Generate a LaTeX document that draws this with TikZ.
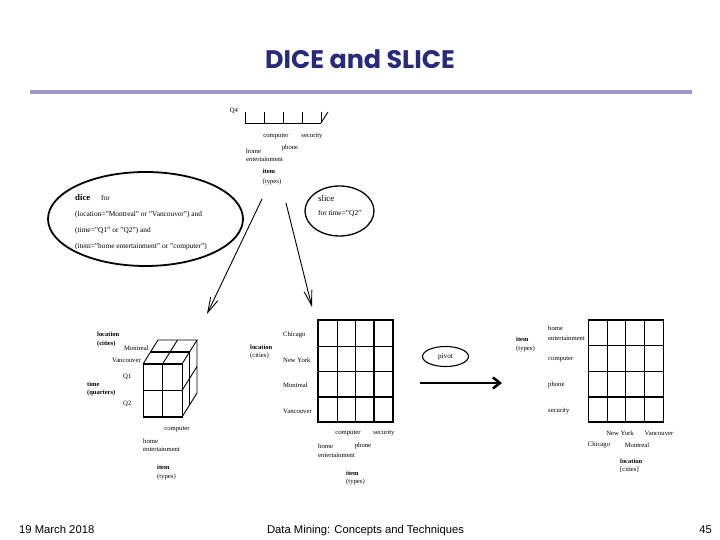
\documentclass[tikz,border=0pt]{standalone}
\usepackage{fontspec}
\setmainfont{Liberation Serif}
\newfontfamily\slidefont{Liberation Sans}
\newfontfamily\titlefont{Poppins}
\usetikzlibrary{shapes.geometric, arrows.meta, positioning, calc}
\definecolor{titleblue}{RGB}{40,42,122}
\definecolor{rulelilac}{RGB}{155,153,204}
\tikzset{
  lbl/.style={font=\fontsize{6.7}{7}\selectfont, inner sep=0pt},
  axlbl/.style={font=\bfseries\fontsize{6.5}{7}\selectfont, inner sep=0pt},
  cond/.style={font=\fontsize{7.4}{8}\selectfont, inner sep=0pt, anchor=west},
  oval/.style={draw, ellipse, line width=1.3bp, inner sep=0pt},
  gridline/.style={line width=0.9bp},
  thickline/.style={line width=2bp},
  opsarrow/.style={line width=0.9bp, -{Straight Barb[length=15bp,width=8bp]}},
  footer/.style={font=\slidefont\fontsize{11.3}{13}\selectfont, inner sep=0pt}
}

\begin{document}
\begin{tikzpicture}[x=1bp, y=-1bp]
  \useasboundingbox (0,0) rectangle (720,540);
  % slide title and rule
  \node[font=\titlefont\bfseries\fontsize{25.5}{28}\selectfont, text=titleblue] (title) at (360,59) {DICE and SLICE};
  \draw[rulelilac, line width=4bp] (30,92) -- (692,92);

  % top cube (cut off)
  \node[lbl] (q4) at (234,111) {Q4};
  \draw[gridline] (245,112) -- (245,123) -- (321,123);
  \foreach \x in {264,283,302,321} \draw[gridline] (\x,112) -- (\x,123);
  \draw[gridline] (321,123) -- (328,112);
  \node[lbl] (topComputer) at (276,136) {computer};
  \node[lbl] (topSecurity) at (312,136) {security};
  \node[lbl] (topPhone) at (290,148) {phone};
  \node[lbl, anchor=west] (topHome) at (246,151) {home};
  \node[lbl, anchor=west] (topEnt) at (246,159) {entertainment};
  \node[axlbl] (topItem) at (269,171) {item};
  \node[lbl] (topTypes) at (272,182) {(types)};

  % dice condition
  \node[oval, line width=1.8bp, minimum width=195bp, minimum height=94bp] (diceOval) at (145.5,219) {};
  \node[font=\bfseries\fontsize{8.8}{9}\selectfont, inner sep=0pt, anchor=west] (diceWord) at (75,198) {dice};
  \node[cond] (diceFor) at (101,198) {for};
  \node[cond] (diceLoc) at (75,215) {(location="Montreal" or "Vancouver") and};
  \node[cond] (diceTime) at (75,231) {(time="Q1" or "Q2") and};
  \node[cond] (diceItem) at (75,247) {(item="home entertainment" or "computer")};

  % slice condition
  \node[oval, minimum width=69bp, minimum height=50bp] (sliceOval) at (339.5,211) {};
  \node[font=\fontsize{8.8}{9}\selectfont, inner sep=0pt, anchor=west] (sliceWord) at (318,199) {slice};
  \node[cond] (sliceFor) at (318,214) {for time="Q2"};

  % operation arrows
  \coordinate (diceFrom) at (262,199);
  \coordinate (diceTo) at (207,314);
  \coordinate (sliceFrom) at (286,203);
  \coordinate (sliceTo) at (312,307);
  \draw[opsarrow] (diceFrom) -- (diceTo);
  \draw[opsarrow] (sliceFrom) -- (sliceTo);

  % dice result: 2x2x2 cube
  \draw[gridline] (143,364) rectangle (182,417);
  \draw[gridline] (162.5,364) -- (162.5,417) (143,390.5) -- (182,390.5);
  \draw[gridline] (143,364) -- (158,340) -- (197,340) -- (182,364);
  \draw[gridline] (162.5,364) -- (177.5,340);
  \draw[gridline] (197,340) -- (197,393) -- (182,417);
  \draw[gridline] (182,390.5) -- (197,366.5) (189.5,352) -- (189.5,405);
  \draw[thickline] (143,364) -- (182,364);
  \draw[thickline] (143,417) -- (182,417);
  \draw[thickline] (150.5,352) -- (189.5,352);
  \node[axlbl, anchor=west] (cubeLoc) at (97,334) {location};
  \node[axlbl, anchor=west] (cubeCities) at (97,344) {(cities)};
  \node[lbl, anchor=west] (cubeMtl) at (124,348) {Montreal};
  \node[lbl, anchor=west] (cubeVan) at (112,360) {Vancouver};
  \node[lbl, anchor=west] (cubeQ1) at (123,377) {Q1};
  \node[lbl, anchor=west] (cubeQ2) at (123,404) {Q2};
  \node[axlbl, anchor=west] (cubeTime) at (87,384) {time};
  \node[axlbl, anchor=west] (cubeQuarters) at (87,393) {(quarters)};
  \node[lbl] (cubeComputer) at (177,429) {computer};
  \node[lbl, anchor=west] (cubeHome) at (143,441) {home};
  \node[lbl, anchor=west] (cubeEnt) at (143,449) {entertainment};
  \node[axlbl, anchor=west] (cubeItem) at (157,467) {item};
  \node[lbl, anchor=west] (cubeTypes) at (157,477) {(types)};

  % slice result: location x item
  \foreach \x in {337,355.5} \draw[gridline] (\x,320) -- (\x,422);
  \foreach \y in {346.5,371.5} \draw[gridline] (318,\y) -- (393,\y);
  \draw[thickline] (374,320) -- (374,422);
  \draw[thickline] (318,396.5) -- (393,396.5);
  \draw[line width=1.6bp] (318,320) rectangle (393,422);
  \node[axlbl, anchor=west] (sliceLoc) at (250,347) {location};
  \node[lbl, anchor=west] (sliceCities) at (250,356) {(cities)};
  \node[lbl, anchor=west] (sliceChi) at (283,335) {Chicago};
  \node[lbl, anchor=west] (sliceNY) at (283,360) {New York};
  \node[lbl, anchor=west] (sliceMtl) at (283,385) {Montreal};
  \node[lbl, anchor=west] (sliceVan) at (283,411) {Vancouver};
  \node[lbl] (sliceComputer) at (348,433) {computer};
  \node[lbl] (sliceSecurity) at (384,433) {security};
  \node[lbl] (slicePhone) at (363,446) {phone};
  \node[lbl, anchor=west] (sliceHome) at (318,446) {home};
  \node[lbl, anchor=west] (sliceEnt) at (318,455) {entertainment};
  \node[axlbl, anchor=west] (sliceItem) at (346,473) {item};
  \node[lbl, anchor=west] (sliceTypes) at (346,482) {(types)};

  % pivot
  \node[oval, line width=1.1bp, minimum width=46bp, minimum height=20bp, font=\fontsize{7.2}{8}\selectfont] (pivotOval) at (445.5,356.5) {pivot};
  \coordinate (pivotFrom) at (420,383);
  \coordinate (pivotTo) at (502,383);
  \draw[line width=2.6bp, -{Straight Barb[length=7bp,width=11bp]}] (pivotFrom) -- (pivotTo);

  % pivot result: item x location
  \foreach \x in {607.3,625.7,644.3} \draw[gridline] (\x,320) -- (\x,422);
  \foreach \y in {345.7,371} \draw[gridline] (588.3,\y) -- (663.3,\y);
  \draw[thickline] (588.3,396.7) -- (663.3,396.7);
  \draw[thickline] (588.3,320) -- (663.3,320);
  \draw[line width=1.4bp] (588.3,320) rectangle (663.3,422);
  \node[axlbl, anchor=west] (pivItem) at (516,339) {item};
  \node[lbl, anchor=west] (pivTypes) at (516,349) {(types)};
  \node[lbl, anchor=west] (pivHome) at (548,328) {home};
  \node[lbl, anchor=west] (pivEnt) at (548,338) {entertainment};
  \node[lbl, anchor=west] (pivComputer) at (548,359) {computer};
  \node[lbl, anchor=west] (pivPhone) at (548,385) {phone};
  \node[lbl, anchor=west] (pivSecurity) at (548,411) {security};
  \node[lbl] (pivNY) at (620,433) {New York};
  \node[lbl] (pivVan) at (659,433) {Vancouver};
  \node[lbl] (pivChi) at (599,445) {Chicago};
  \node[lbl] (pivMtl) at (637,445) {Montreal};
  \node[axlbl, anchor=west] (pivLoc) at (620,461) {location};
  \node[lbl, anchor=west] (pivCities) at (620,470) {[cities]};

  % footer
  \node[footer, anchor=base west] (date) at (19,533) {19 March 2018};
  \node[footer, anchor=base] (course) at (365.5,533) {Data Mining: Concepts and Techniques};
  \node[footer, anchor=base east] (page) at (712,533) {45};
\end{tikzpicture}
\end{document}
